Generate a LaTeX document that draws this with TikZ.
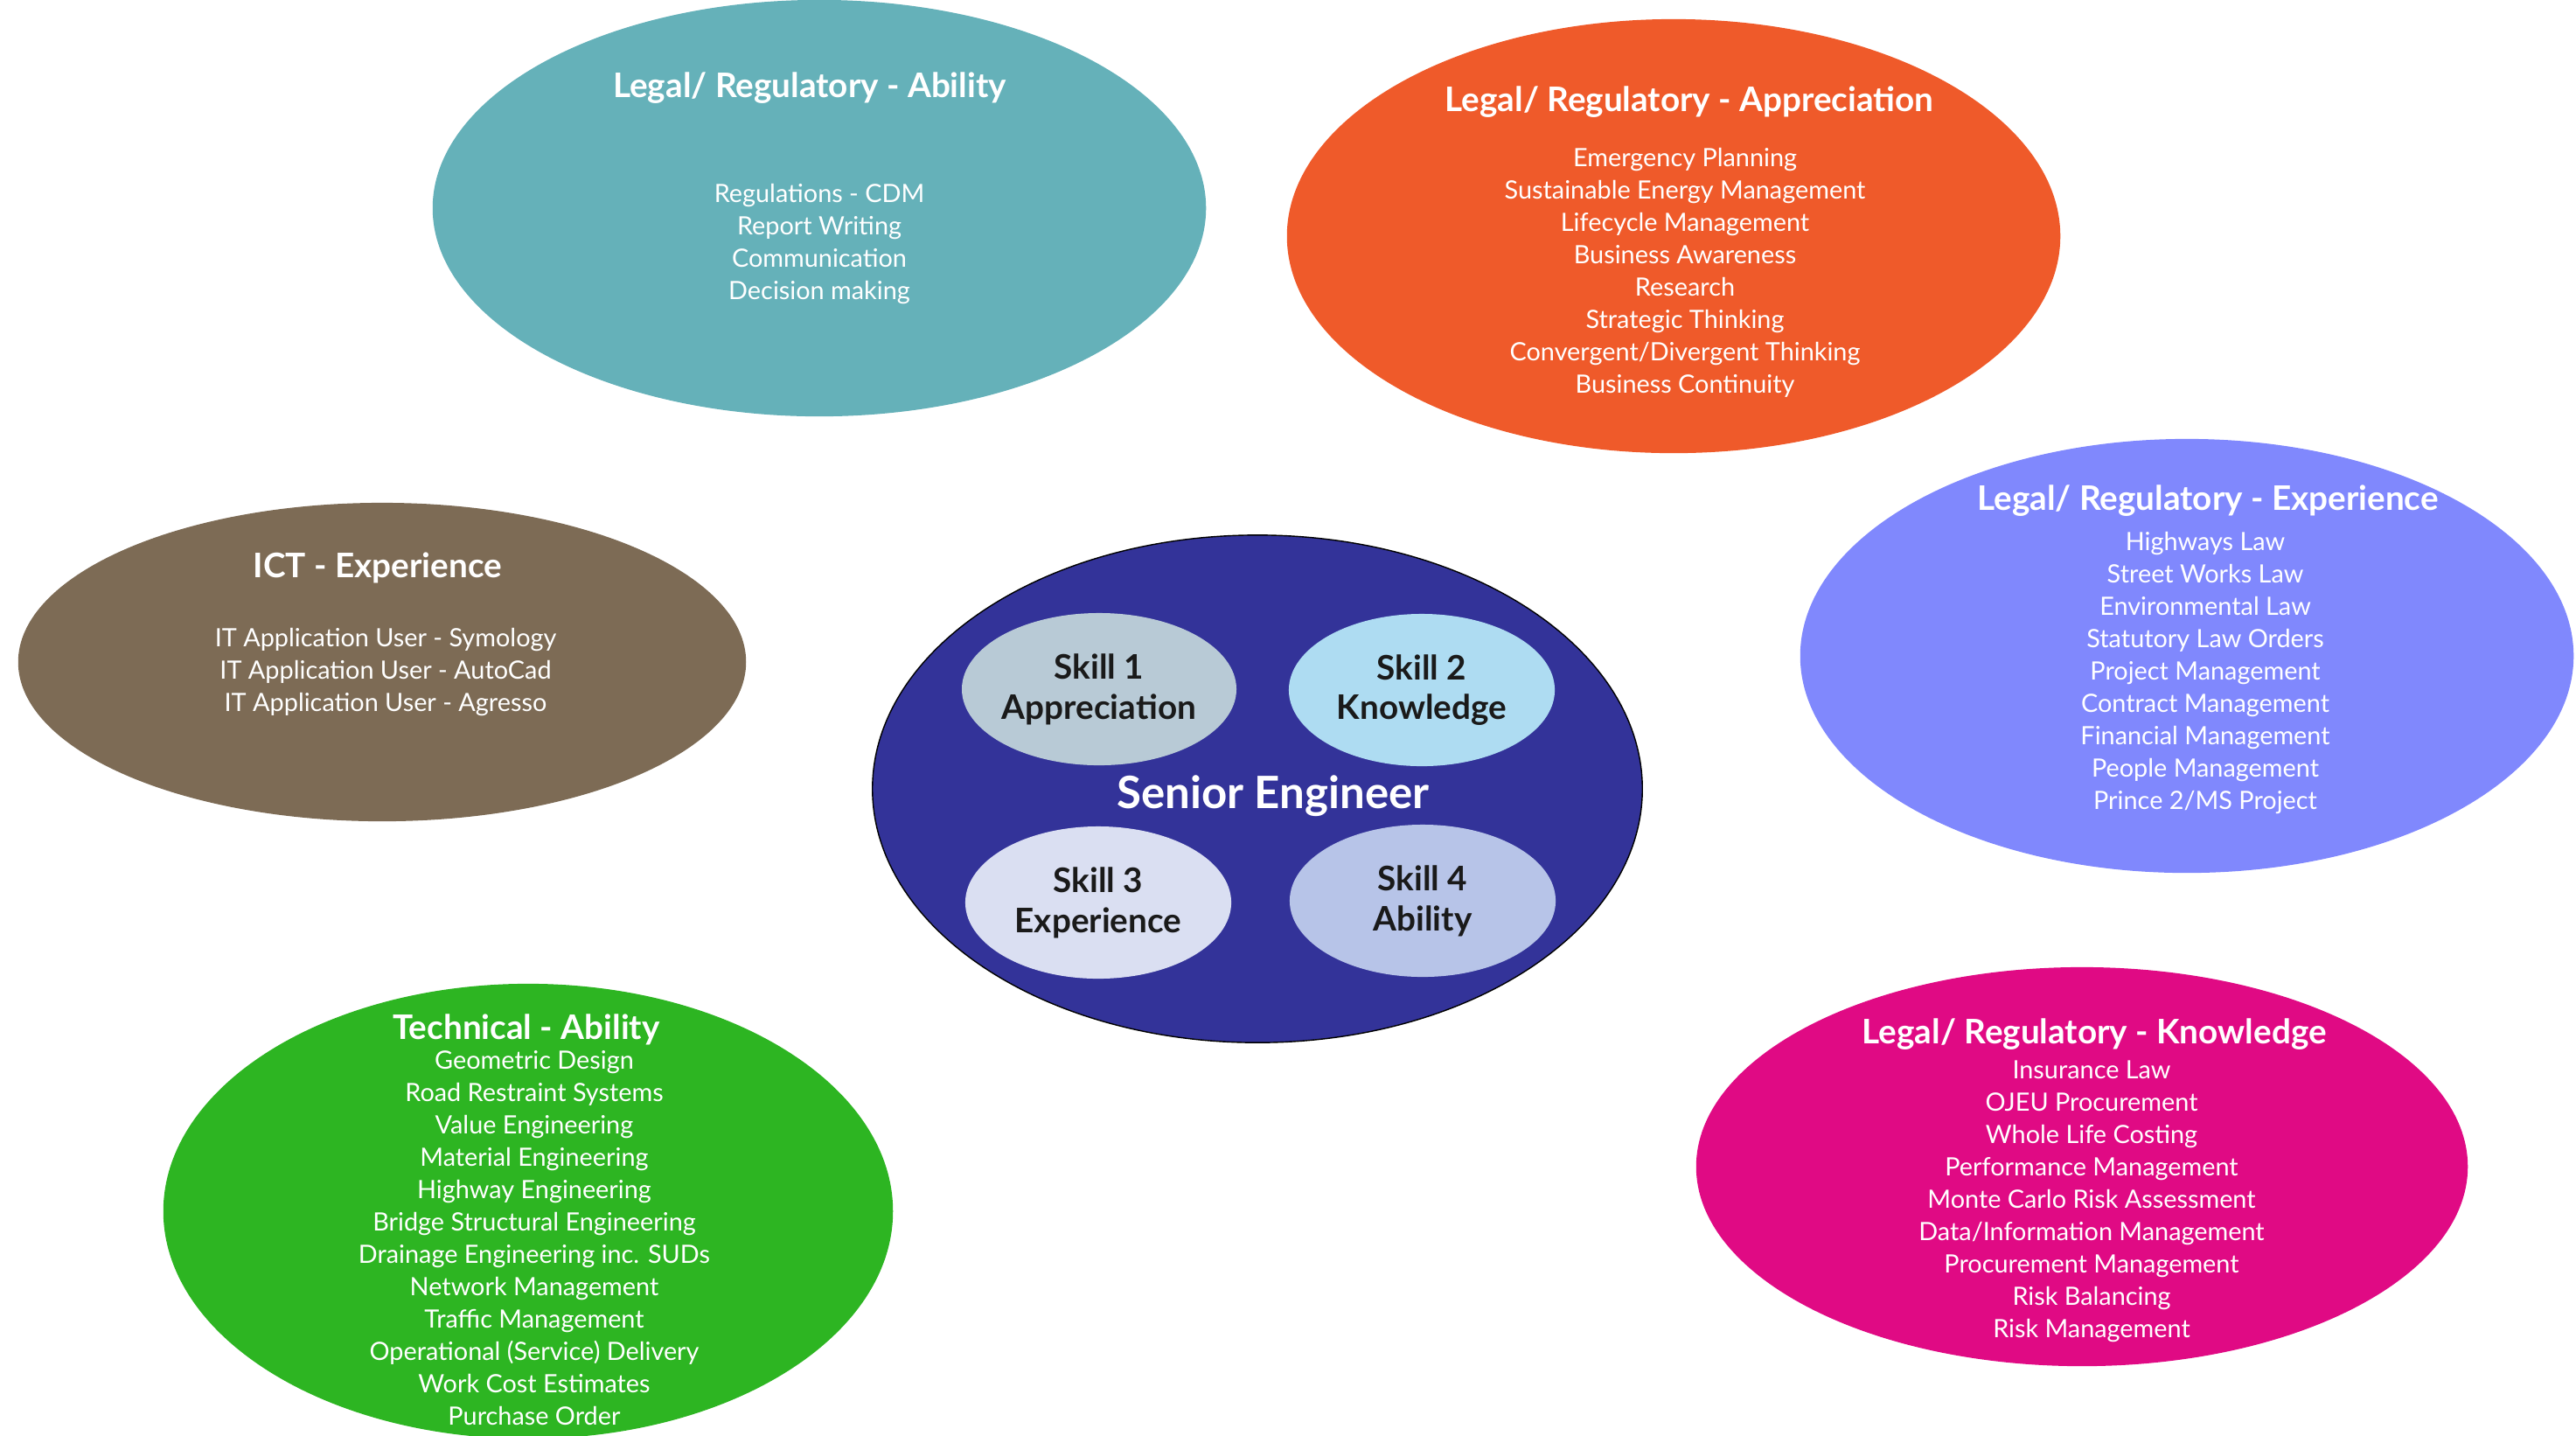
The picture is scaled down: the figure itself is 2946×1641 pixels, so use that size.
\documentclass[tikz,border=0pt]{standalone}
\usepackage{fontspec}
\setmainfont{Lato}
\usetikzlibrary{shapes.geometric}
\definecolor{regability}{HTML}{65B1B9}
\definecolor{regappreciation}{HTML}{EF5A2A}
\definecolor{regexperience}{HTML}{8088FD}
\definecolor{ictexperience}{HTML}{7D6B55}
\definecolor{techability}{HTML}{2DB522}
\definecolor{regknowledge}{HTML}{E00A84}
\definecolor{senior}{HTML}{333399}
\definecolor{skillone}{HTML}{B8CAD6}
\definecolor{skilltwo}{HTML}{AEDCF2}
\definecolor{skillthree}{HTML}{DADFF2}
\definecolor{skillfour}{HTML}{B7C4E8}
\definecolor{skilltext}{HTML}{1A1A1A}
\begin{document}
\begin{tikzpicture}[x=.01cm,y=-.01cm,
  blob/.style={ellipse,inner sep=0pt},
  head/.style={anchor=base,text=white,font=\bfseries\fontsize{11}{13}\selectfont},
  item/.style={anchor=base,text=white,font=\fontsize{8.2}{10}\selectfont},
  skill/.style={ellipse,inner sep=0pt,minimum width=3.04cm,minimum height=1.74cm,align=center,text=skilltext,font=\bfseries\fontsize{11}{13}\selectfont}]
\clip (0,0) rectangle (2946,1641);
% groups round the centre
\node[blob,fill=regability,minimum width=8.84cm,minimum height=4.76cm] (ability) at (937,238) {};
\node[blob,fill=regappreciation,minimum width=8.84cm,minimum height=4.96cm] (appreciation) at (1914,270) {};
\node[blob,fill=regexperience,minimum width=8.84cm,minimum height=4.96cm] (experience) at (2501,750) {};
\node[blob,fill=ictexperience,minimum width=8.32cm,minimum height=3.64cm] (ict) at (437,757) {};
\node[blob,fill=techability,minimum width=8.34cm,minimum height=5.2cm] (technical) at (604,1385) {};
\node[blob,fill=regknowledge,minimum width=8.82cm,minimum height=4.56cm] (knowledge) at (2381,1334) {};

\node[head] (abilityhead) at (926,111) {Legal/ Regulatory - Ability};
\foreach \t [count=\i] in {Regulations - CDM,Report Writing,Communication,Decision making}
  \node[item] (ability\i) at (937,{231+37*(\i-1)}) {\t};

\node[head] (appreciationhead) at (1932,127) {Legal/ Regulatory - Appreciation};
\foreach \t [count=\i] in {Emergency Planning,Sustainable Energy Management,Lifecycle Management,Business Awareness,Research,Strategic Thinking,{Convergent/Divergent Thinking},Business Continuity}
  \node[item] (appreciation\i) at (1927,{190+37*(\i-1)}) {\t};

\node[head] (experiencehead) at (2525,583) {Legal/ Regulatory - Experience};
\foreach \t [count=\i] in {Highways Law,Street Works Law,Environmental Law,Statutory Law Orders,Project Management,Contract Management,Financial Management,People Management,{Prince 2/MS Project}}
  \node[item] (experience\i) at (2522,{629+37*(\i-1)}) {\t};

\node[head] (icthead) at (432,660) {ICT - Experience};
\foreach \t [count=\i] in {IT Application User - Symology,IT Application User - AutoCad,IT Application User - Agresso}
  \node[item] (ict\i) at (441,{739+37*(\i-1)}) {\t};

\node[head] (technicalhead) at (602,1188) {Technical - Ability};
\foreach \t [count=\i] in {Geometric Design,Road Restraint Systems,Value Engineering,Material Engineering,Highway Engineering,Bridge Structural Engineering,Drainage Engineering inc. SUDs,Network Management,Traffic Management,Operational (Service) Delivery,Work Cost Estimates,Purchase Order}
  \node[item] (technical\i) at (611,{1222+37*(\i-1)}) {\t};

\node[head] (knowledgehead) at (2395,1193) {Legal/ Regulatory - Knowledge};
\foreach \t [count=\i] in {Insurance Law,OJEU Procurement,Whole Life Costing,Performance Management,Monte Carlo Risk Assessment,{Data/Information Management},Procurement Management,Risk Balancing,Risk Management}
  \node[item] (knowledge\i) at (2392,{1233+37*(\i-1)}) {\t};

% senior engineer and its four skills
\node[blob,draw=black,line width=.4pt,fill=senior,minimum width=8.8cm,minimum height=5.8cm] (engineer) at (1438,902) {};
\node[skill,fill=skillone] (skill1) at (1257,788) {Skill 1\\Appreciation};
\node[skill,fill=skilltwo] (skill2) at (1626,789) {Skill 2\\Knowledge};
\node[skill,fill=skillthree] (skill3) at (1256,1032) {Skill 3\\Experience};
\node[skill,fill=skillfour] (skill4) at (1627,1030) {Skill 4\\Ability};
\node[text=white,font=\bfseries\fontsize{14.5}{17}\selectfont] (enginame) at (1456,910) {Senior Engineer};
\end{tikzpicture}
\end{document}
